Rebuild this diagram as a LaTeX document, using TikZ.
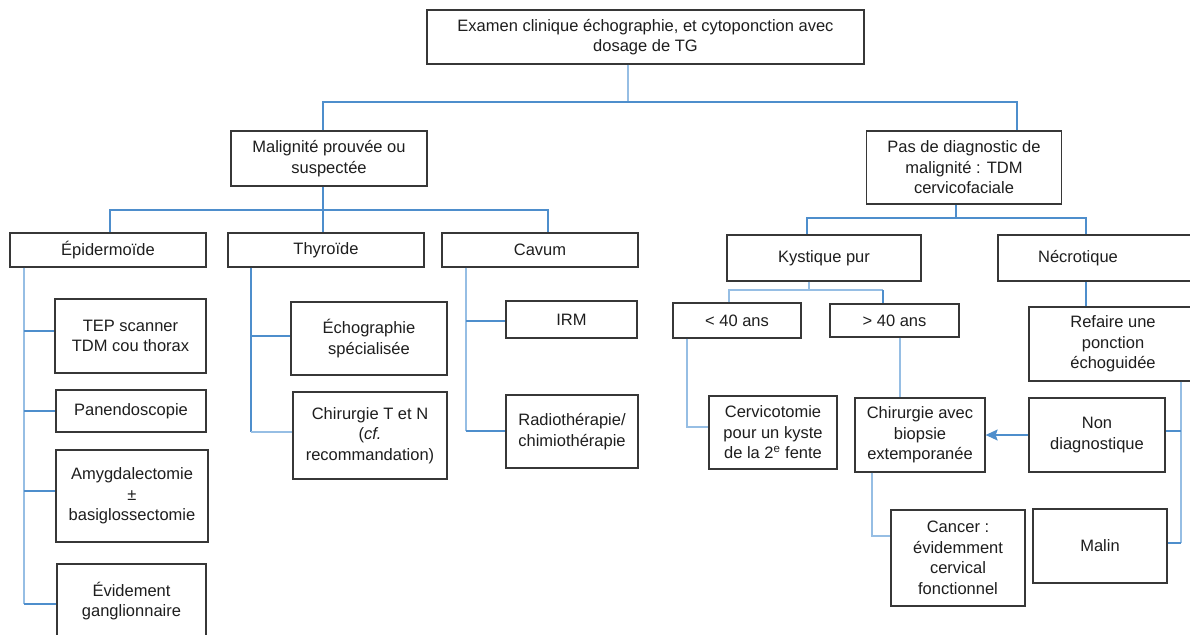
\documentclass[tikz,border=0pt]{standalone}
\usepackage{fontspec}
\setmainfont{Liberation Sans}
\usetikzlibrary{arrows.meta}
\definecolor{linkblue}{RGB}{78,142,204}
\definecolor{lightblue}{RGB}{150,190,228}
\definecolor{boxline}{RGB}{55,55,55}
\definecolor{txt}{RGB}{30,30,30}
\tikzset{
  box/.style={draw=boxline, line width=1.3pt, fill=white, inner sep=0pt,
              align=center, text=txt, font=\fontsize{16.5}{20.5}\selectfont},
  caption/.style={inner sep=0pt, align=center, text=txt,
              font=\fontsize{16.5}{20.5}\selectfont},
  link/.style={draw=linkblue, line width=1.8pt},
  linklight/.style={draw=lightblue, line width=1.2pt},
  arrowlink/.style={draw=linkblue, line width=1.4pt,
              -{Stealth[length=12pt,width=11pt,inset=2pt]}}
}
\begin{document}
\begin{tikzpicture}[x=1pt,y=-1pt]
\useasboundingbox (0,0) rectangle (1190,634);
\clip (0,0) rectangle (1190,634);
\fill[white] (0,0) rectangle (1190,634);

% --- boxes ---
\node[box, minimum width=437, minimum height=54] (top) at (645.5,37)
  {Examen clinique échographie, et cytoponction avec\\dosage de TG};
\node[box, minimum width=196, minimum height=55] (mal) at (329,158.5)
  {Malignité prouvée ou\\suspectée};
\node[box, minimum width=195, minimum height=73] (pas) at (964,167.5)
  {Pas de diagnostic de\\malignité : TDM\\cervicofaciale};

\node[box, minimum width=196, minimum height=34] (epi) at (108,250) {Épidermoïde};
\node[box, minimum width=196, minimum height=34] (thy) at (326,250) {Thyroïde};
\node[box, minimum width=196, minimum height=34] (cav) at (540,250) {Cavum};

\node[box, minimum width=151, minimum height=74] (tep) at (130.5,336)
  {TEP scanner\\TDM cou thorax};
\node[box, minimum width=150, minimum height=42] (pan) at (131,411) {Panendoscopie};
\node[box, minimum width=152, minimum height=92] (amy) at (132,496)
  {Amygdalectomie\\±\\basiglossectomie};
\node[box, minimum width=149, minimum height=74] (evi) at (131.5,601)
  {Évidement\\ganglionnaire};

\node[box, minimum width=156, minimum height=73] (echo) at (369,338.5)
  {Échographie\\spécialisée};
\node[box, minimum width=154, minimum height=87] (chtn) at (370,435.5)
  {Chirurgie T et N\\(\textit{cf.}\\recommandation)};

\node[box, minimum width=131, minimum height=37] (irm) at (571.5,319.5) {IRM};
\node[box, minimum width=132, minimum height=73] (radio) at (572,431.5)
  {Radiothérapie/\\chimiothérapie};

\node[box, minimum width=194, minimum height=46] (kys) at (824,258) {Kystique pur};
\node[box, minimum width=220, minimum height=46] (necro) at (1108,258) {};
\node[caption] (necroT) at (1078,258) {Nécrotique};

\node[box, minimum width=128, minimum height=35] (lt40) at (737,320.5) {< 40 ans};
\node[box, minimum width=129, minimum height=33] (gt40) at (894.5,320.5) {> 40 ans};
\node[box, minimum width=190, minimum height=74] (refaire) at (1124,344) {};
\node[caption] (refaireT) at (1113,344) {Refaire une\\ponction\\échoguidée};

\node[box, minimum width=128, minimum height=73] (cerv) at (773,432.5)
  {Cervicotomie\\pour un kyste\\de la 2\textsuperscript{e} fente};
\node[box, minimum width=130, minimum height=74] (chir) at (920,435)
  {Chirurgie avec\\biopsie\\extemporanée};
\node[box, minimum width=136, minimum height=74] (non) at (1097,435)
  {Non\\diagnostique};
\node[box, minimum width=134, minimum height=96] (cancer) at (958,558)
  {Cancer :\\évidemment\\cervical\\fonctionnel};
\node[box, minimum width=134, minimum height=74] (malin) at (1100,546) {Malin};

% --- connectors: first level ---
\draw[linklight] (628,0 |- top.south) -- (628,102);
\draw[link] (323,0 |- mal.north) |- (1017,102) -- (1017,0 |- pas.north);

% --- malignité branch ---
\draw[link] (323,0 |- mal.south) -- (323,0 |- thy.north);
\draw[link] (110,0 |- epi.north) |- (548,210) -- (548,0 |- cav.north);

% épidermoïde
\draw[linklight] (24,0 |- epi.south) -- (24,604);
\draw[link] (24,331) -- (24,331 -| tep.west);
\draw[link] (24,411) -- (24,411 -| pan.west);
\draw[link] (24,491) -- (24,491 -| amy.west);
\draw[link] (24,604) -- (24,604 -| evi.west);

% thyroïde
\draw[link] (251,0 |- thy.south) -- (251,432);
\draw[link] (251,336) -- (251,336 -| echo.west);
\draw[linklight] (251,432) -- (251,432 -| chtn.west);

% cavum
\draw[linklight] (466,0 |- cav.south) -- (466,431);
\draw[link] (466,321) -- (466,321 -| irm.west);
\draw[link] (466,431) -- (466,431 -| radio.west);

% --- pas de diagnostic branch ---
\draw[link] (956,0 |- pas.south) -- (956,218);
\draw[link] (807,0 |- kys.north) |- (1086,218) -- (1086,0 |- necro.north);
\draw[link] (1086,0 |- necro.south) -- (1086,0 |- refaire.north);

% kystique
\draw[linklight] (809,0 |- kys.south) -- (809,290);
\draw[linklight] (729,0 |- lt40.north) |- (883,290);
\draw[link] (883,290) -- (883,0 |- gt40.north);
\draw[linklight] (687,0 |- lt40.south) |- (687,427 -| cerv.west);
\draw[linklight] (900,0 |- gt40.south) -- (900,0 |- chir.north);
\draw[linklight] (872,0 |- chir.south) |- (872,536 -| cancer.west);

% nécrotique
\draw[linklight] (1181,0 |- refaire.south) -- (1181,543);
\draw[link] (1181,431) -- (1181,431 -| non.east);
\draw[link] (1181,543) -- (1181,543 -| malin.east);
\draw[arrowlink] (non.west) -- (chir.east);
\end{tikzpicture}
\end{document}
